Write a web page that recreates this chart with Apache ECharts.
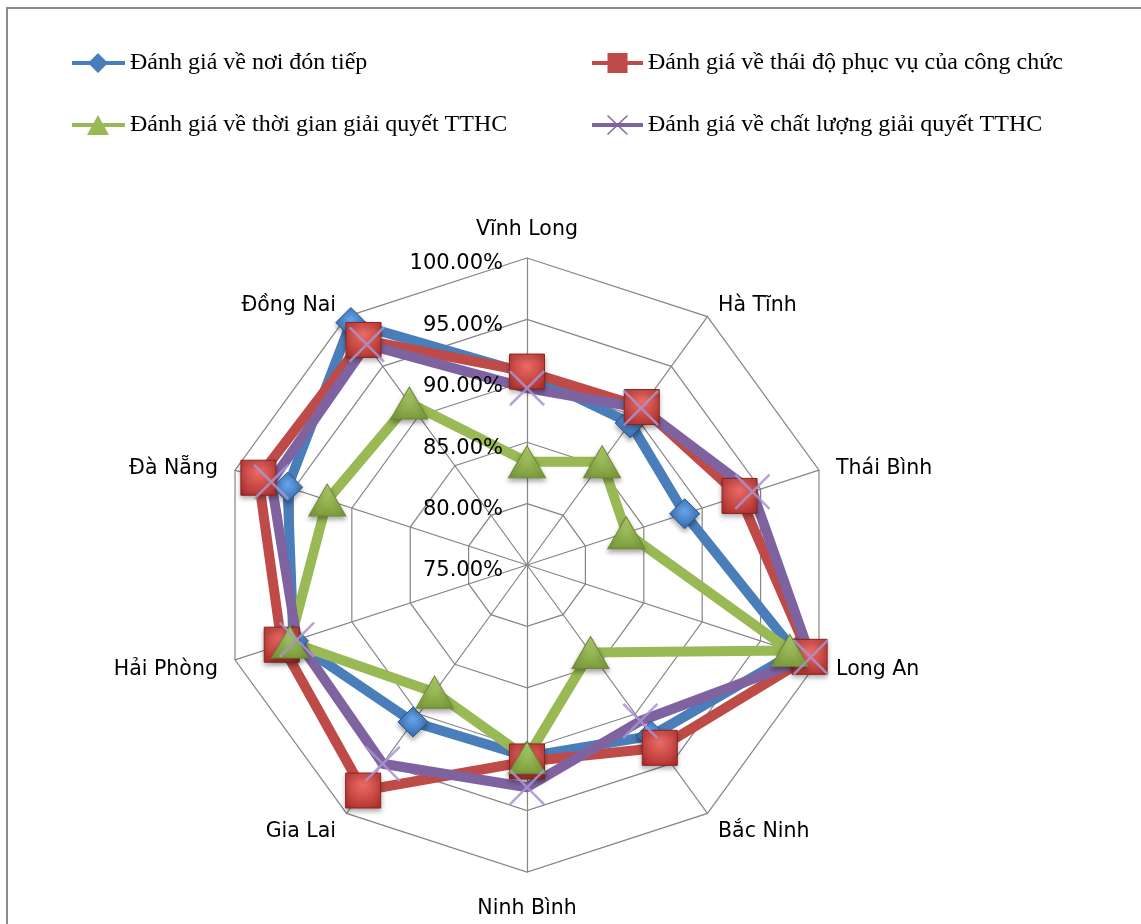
<!DOCTYPE html>
<html>
<head>
<meta charset="utf-8">
<script src="https://cdn.jsdelivr.net/npm/echarts@6/dist/echarts.min.js"></script>
<style>
  html, body { margin: 0; padding: 0; background: #fff; }
  #chart { width: 1141px; height: 924px; }
</style>
</head>
<body>
<div id="chart"></div>
<script>
// Provinces, listed clockwise starting from the top axis
const provinces = ['Vĩnh Long', 'Hà Tĩnh', 'Thái Bình', 'Long An', 'Bắc Ninh',
  'Ninh Bình', 'Gia Lai', 'Hải Phòng', 'Đà Nẵng', 'Đồng Nai'];

const seriesNames = [
  'Đánh giá về nơi đón tiếp',
  'Đánh giá về thái độ phục vụ của công chức',
  'Đánh giá về thời gian giải quyết TTHC',
  'Đánh giá về chất lượng giải quyết TTHC'
];

// Satisfaction rates (%), same order as provinces
const noiDonTiep   = [90.6, 89.3, 88.5, 98.0, 92.2, 90.6, 90.8, 95.0, 95.5, 99.4];
const thaiDo       = [90.75, 90.9, 93.2, 99.2, 93.4, 91.0, 97.7, 96.0, 98.0, 97.65];
const thoiGian     = [83.4, 85.4, 83.5, 97.5, 83.8, 90.7, 87.8, 95.3, 92.1, 91.3];
const chatLuong    = [89.4, 90.8, 94.3, 99.3, 90.7, 93.1, 95.0, 94.7, 96.9, 97.2];

// Radial scale
const scaleMin = 75;
const scaleMax = 100;
const scaleSplits = 5;

// Radar axes run counter-clockwise; keep the first axis on top and flip the rest
const toClockwise = arr => [arr[0]].concat(arr.slice(1).reverse());

const lineColors = ['#4a7ebb', '#be4b48', '#98b954', '#7f63a1'];

const xPath = 'path://M1,0 L10,9 L19,0 L20,1 L11,10 L20,19 L19,20 L10,11 L1,20 L0,19 L9,10 L0,1 Z';

const markerStyles = [
  {
    symbol: 'diamond', symbolSize: 30,
    itemStyle: {
      color: { type: 'radial', x: 0.5, y: 0.4, r: 0.7,
        colorStops: [{ offset: 0, color: '#66a6ec' }, { offset: 1, color: '#2c5f9e' }] },
      borderColor: '#2a5590', borderWidth: 1,
      shadowColor: 'rgba(0,0,0,0.35)', shadowBlur: 5, shadowOffsetY: 3
    }
  },
  {
    symbol: 'rect', symbolSize: 35,
    itemStyle: {
      color: { type: 'radial', x: 0.5, y: 0.35, r: 0.75,
        colorStops: [{ offset: 0, color: '#ea6a66' }, { offset: 1, color: '#ad2e2a' }] },
      borderColor: '#8b2522', borderWidth: 1,
      shadowColor: 'rgba(0,0,0,0.35)', shadowBlur: 5, shadowOffsetY: 3
    }
  },
  {
    symbol: 'triangle', symbolSize: [37, 32],
    itemStyle: {
      color: { type: 'linear', x: 0, y: 0, x2: 0, y2: 1,
        colorStops: [{ offset: 0, color: '#b8d873' }, { offset: 1, color: '#7b9a3a' }] },
      borderColor: '#6e8a33', borderWidth: 1,
      shadowColor: 'rgba(0,0,0,0.35)', shadowBlur: 5, shadowOffsetY: 3
    }
  },
  {
    symbol: xPath, symbolSize: 36,
    itemStyle: { color: 'rgba(168,148,208,0.85)', borderWidth: 0 }
  }
];

const seriesValues = [noiDonTiep, thaiDo, thoiGian, chatLuong];

// Legend icons: a stroke with the marker in its middle (box 53 x 20)
const legendIcons = [
  'path://M0,8 L53,8 L53,12 L0,12 Z M26,0 L36,10 L26,20 L16,10 Z',
  'path://M0,8 L51,8 L51,12 L0,12 Z M15.5,0 L35.5,0 L35.5,20 L15.5,20 Z',
  'path://M0,8 L53,8 L53,12 L0,12 Z M26,0 L37,20 L15,20 Z',
  'path://M0,8 L51,8 L51,12 L0,12 Z M16,0 L25.5,9 L35,0 L36,1 L26.5,10 L36,19 L35,20 L25.5,11 L16,20 L15,19 L24.5,10 L15,1 Z'
];
const legendPlaces = [
  { left: 72, top: 51, w: 53 },
  { left: 592, top: 51, w: 51 },
  { left: 72, top: 113, w: 53 },
  { left: 592, top: 113, w: 51 }
];

const chart = echarts.init(document.getElementById('chart'), null, { renderer: 'canvas' });

const labelFont = 'DejaVu Sans';

const indicators = toClockwise(provinces).map(name => ({ name: name, min: scaleMin, max: scaleMax }));

// shared geometry for the stacked radar layers
const radarBase = {
  radius: 307,
  startAngle: 90,
  shape: 'polygon',
  splitNumber: scaleSplits,
  splitArea: { show: false },
  axisTick: { show: false }
};

const option = {
  backgroundColor: '#fff',
  animation: false,
  graphic: [{
    type: 'rect', z: -10, silent: true,
    shape: { x: 7, y: 8, width: 1300, height: 1100 },
    style: { fill: 'none', stroke: '#8c8c8c', lineWidth: 2 }
  }],
  legend: seriesNames.map((name, i) => ({
    left: legendPlaces[i].left,
    top: legendPlaces[i].top,
    padding: 0,
    selectedMode: false,
    itemWidth: legendPlaces[i].w,
    itemHeight: 20,
    textStyle: { fontFamily: 'Liberation Serif', fontSize: 24, color: '#000' },
    data: [{
      name: name,
      icon: legendIcons[i],
      itemStyle: { color: lineColors[i], borderWidth: 0, shadowBlur: 0 }
    }]
  })),
  radar: [
    Object.assign({}, radarBase, {
      // grid and spokes, beneath the series
      center: [527, 565],
      axisName: { show: false },
      axisLine: { show: true, lineStyle: { color: '#868686', width: 1.2 } },
      splitLine: { show: true, lineStyle: { color: '#868686', width: 1.2 } },
      axisLabel: { show: false },
      indicator: indicators
    }),
    Object.assign({}, radarBase, {
      // percentage tick labels along the top axis, above the series
      center: [527, 565],
      z: 5,
      silent: true,
      axisName: { show: false },
      axisLine: { show: false },
      splitLine: { show: false },
      axisLabel: {
        show: false,
        color: '#000',
        fontFamily: labelFont,
        fontSize: 21,
        margin: 24,
        verticalAlign: 'top',
        lineHeight: 12,
        formatter: v => v.toFixed(2) + '%'
      },
      indicator: indicators.map((ind, i) => {
        const o = { name: ind.name, min: ind.min, max: ind.max };
        if (i === 0) o.axisLabel = { show: true };
        return o;
      })
    }),
    Object.assign({}, radarBase, {
      // province names around the rim
      center: [527, 569],
      silent: true,
      nameGap: 18,
      axisName: { color: '#000', fontFamily: labelFont, fontSize: 20.5, padding: [4, 0, 4, 0] },
      axisLine: { show: false },
      splitLine: { show: false },
      axisLabel: { show: false },
      indicator: indicators.map(ind => ({ name: ind.name, min: ind.min, max: ind.max }))
    })
  ],
  series: seriesNames.map((name, i) => ({
    type: 'radar',
    radarIndex: 0,
    name: name,
    symbol: markerStyles[i].symbol,
    symbolSize: markerStyles[i].symbolSize,
    lineStyle: { color: lineColors[i], width: 10, join: 'round', opacity: 1 },
    itemStyle: markerStyles[i].itemStyle,
    areaStyle: null,
    emphasis: { disabled: true },
    data: [{ name: name, value: toClockwise(seriesValues[i]) }]
  }))
};

chart.setOption(option);
</script>
</body>
</html>
